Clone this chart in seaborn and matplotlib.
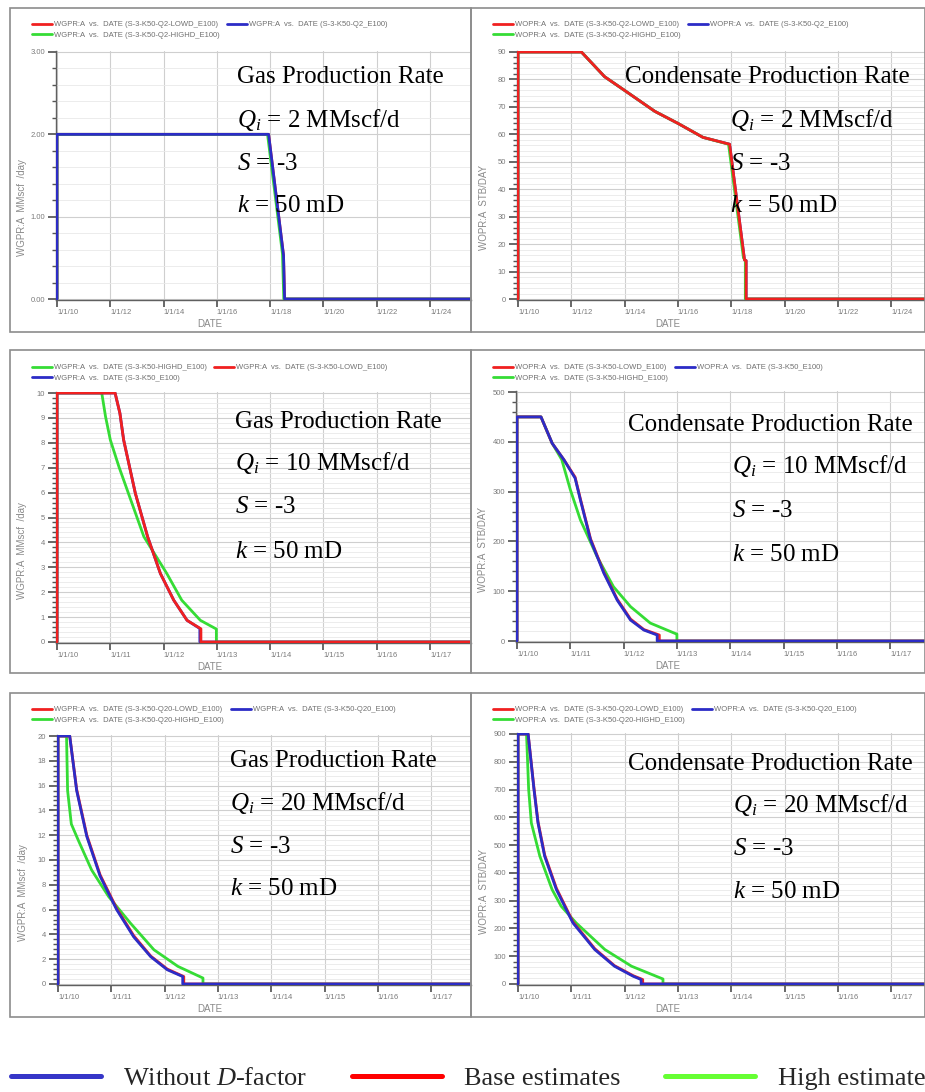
import pandas as pd
import seaborn as sns
import matplotlib.pyplot as plt
from matplotlib.lines import Line2D
from matplotlib.patches import Rectangle
from matplotlib.ticker import FixedLocator, AutoMinorLocator

# ---- data (dates as decimal years) ----
# Qi = 2 MMscf/d, gas rate (MMscf/day)
A_DATE_NOD = [2010, 2010, 2017.94, 2018.50, 2018.54, 2026]
A_RATE_NOD = [0, 2.0, 2.0, 0.53, 0, 0]
A_DATE_BASE = [2010, 2010, 2017.94, 2018.50, 2018.54, 2026]
A_RATE_BASE = [0, 2.0, 2.0, 0.53, 0, 0]
A_DATE_HIGH = [2010, 2010, 2017.90, 2018.46, 2018.51, 2026]
A_RATE_HIGH = [0, 2.0, 2.0, 0.55, 0, 0]

# Qi = 2 MMscf/d, condensate rate (STB/day)
B_DATE_BASE = [2010, 2010, 2012.38, 2013.25, 2014.0, 2015.13, 2016.0, 2016.94, 2017.94,
               2018.50, 2018.56, 2018.56, 2026]
B_RATE_BASE = [0, 90, 90, 81, 76, 68.4, 64, 58.9, 56.4, 14.2, 14, 0, 0]
B_DATE_NOD = B_DATE_BASE
B_RATE_NOD = B_RATE_BASE
B_DATE_HIGH = [2010, 2010, 2012.38, 2013.25, 2014.0, 2015.13, 2016.0, 2016.94, 2017.90,
               2018.46, 2018.53, 2018.53, 2026]
B_RATE_HIGH = [0, 90, 90, 81, 76, 68.4, 64, 58.9, 56.4, 15, 14, 0, 0]

# Qi = 10 MMscf/d, gas rate
C_DATE_NOD = [2010, 2010, 2011.09, 2011.18, 2011.25, 2011.47, 2011.70, 2011.94, 2012.19,
              2012.44, 2012.68, 2012.68, 2018]
C_RATE_NOD = [0, 10, 10, 9.19, 8.12, 5.97, 4.23, 2.75, 1.68, 0.87, 0.54, 0, 0]
C_DATE_BASE = [2010, 2010, 2011.09, 2011.18, 2011.25, 2011.47, 2011.70, 2011.94, 2012.19,
               2012.44, 2012.70, 2012.70, 2018]
C_RATE_BASE = [0, 10, 10, 9.19, 8.12, 5.97, 4.23, 2.75, 1.68, 0.87, 0.53, 0, 0]
C_DATE_HIGH = [2010, 2010, 2010.84, 2010.91, 2011.0, 2011.16, 2011.34, 2011.63, 2012.06,
               2012.34, 2012.69, 2012.99, 2012.99, 2018]
C_RATE_HIGH = [0, 10, 10, 9.06, 8.12, 7.05, 5.97, 4.23, 2.75, 1.68, 0.87, 0.52, 0, 0]

# Qi = 10 MMscf/d, condensate rate
D_DATE_NOD = [2010, 2010, 2010.45, 2010.66, 2010.88, 2011.09, 2011.19, 2011.38, 2011.63,
              2011.88, 2012.13, 2012.38, 2012.63, 2012.63, 2018]
D_RATE_NOD = [0, 450, 450, 397, 364, 327, 283, 203, 136, 82, 42, 22, 12, 0, 0]
D_DATE_BASE = [2010, 2010, 2010.45, 2010.66, 2010.88, 2011.09, 2011.19, 2011.38, 2011.63,
               2011.88, 2012.13, 2012.38, 2012.67, 2012.67, 2018]
D_RATE_BASE = [0, 450, 450, 397, 364, 329, 285, 205, 138, 84, 44, 23, 12, 0, 0]
D_DATE_HIGH = [2010, 2010, 2010.45, 2010.66, 2010.84, 2011.0, 2011.19, 2011.5, 2011.81,
               2012.13, 2012.5, 2012.97, 2013.0, 2013.0, 2018]
D_RATE_HIGH = [0, 450, 450, 397, 364, 304, 243, 170, 109, 69, 36, 15, 14, 0, 0]

# Qi = 20 MMscf/d, gas rate
E_DATE_NOD = [2010, 2010, 2010.22, 2010.35, 2010.54, 2010.79, 2011.10, 2011.42, 2011.74,
              2012.05, 2012.34, 2012.34, 2018]
E_RATE_NOD = [0, 20, 20, 15.6, 11.9, 8.7, 6.0, 3.8, 2.2, 1.15, 0.6, 0, 0]
E_DATE_BASE = [2010, 2010, 2010.22, 2010.35, 2010.54, 2010.79, 2011.10, 2011.42, 2011.74,
               2012.05, 2012.36, 2012.36, 2018]
E_RATE_BASE = [0, 20, 20, 15.7, 12.0, 8.8, 6.1, 3.9, 2.25, 1.2, 0.6, 0, 0]
E_DATE_HIGH = [2010, 2010, 2010.16, 2010.18, 2010.25, 2010.38, 2010.63, 2010.95, 2011.36,
               2011.80, 2012.25, 2012.72, 2012.72, 2018]
E_RATE_HIGH = [0, 20, 20, 15.6, 12.9, 11.6, 9.2, 7.05, 4.9, 2.76, 1.42, 0.48, 0, 0]

# Qi = 20 MMscf/d, condensate rate
F_DATE_NOD = [2010, 2010, 2010.19, 2010.30, 2010.375, 2010.50, 2010.72, 2011.03, 2011.44,
              2011.81, 2012.16, 2012.31, 2012.31, 2018]
F_RATE_NOD = [0, 900, 900, 700, 580, 460, 340, 220, 124, 64, 28, 16, 0, 0]
F_DATE_BASE = [2010, 2010, 2010.19, 2010.30, 2010.375, 2010.50, 2010.72, 2011.03, 2011.44,
               2011.81, 2012.16, 2012.34, 2012.34, 2018]
F_RATE_BASE = [0, 900, 900, 705, 585, 465, 345, 224, 127, 66, 30, 16, 0, 0]
F_DATE_HIGH = [2010, 2010, 2010.16, 2010.20, 2010.25, 2010.41, 2010.64, 2010.81, 2011.09,
               2011.63, 2012.13, 2012.72, 2012.72, 2018]
F_RATE_HIGH = [0, 900, 900, 700, 580, 460, 340, 280, 220, 124, 64, 18, 0, 0]

YEARS_WIDE = [2010, 2012, 2014, 2016, 2018, 2020, 2022, 2024]
LABELS_WIDE = ["1/1/10", "1/1/12", "1/1/14", "1/1/16", "1/1/18", "1/1/20", "1/1/22", "1/1/24"]
YEARS_NARROW = [2010, 2011, 2012, 2013, 2014, 2015, 2016, 2017]
LABELS_NARROW = ["1/1/10", "1/1/11", "1/1/12", "1/1/13", "1/1/14", "1/1/15", "1/1/16", "1/1/17"]

LEGEND_NAMES = ["Without $D$-factor", "Base estimates", "High estimate"]

W, H = 925, 1092
COLORS = {"nod": "#2c2cc6", "base": "#f02020", "high": "#35dc35"}
KEY_COLORS = ["#3636c8", "#ff0000", "#66ff33"]
SERIF = "Liberation Serif"

sns.set_theme(style="white")
plt.rcParams["font.family"] = ["Liberation Sans", "DejaVu Sans"]
plt.rcParams["mathtext.fontset"] = "custom"
plt.rcParams["mathtext.rm"] = SERIF
plt.rcParams["mathtext.it"] = SERIF + ":italic"

fig = plt.figure(figsize=(W / 100, H / 100), dpi=100)


def frame(x0, y0, x1, y1):
    fig.add_artist(Rectangle((x0 / W, 1 - y1 / H), (x1 - x0) / W, (y1 - y0) / H,
                             transform=fig.transFigure, fill=False,
                             edgecolor="#8c8c8c", lw=1.2, zorder=5))


def panel(x0, y0, ytop, right, years, labels, y_top, y_step, y_fmt, qty, ylabel,
          runs, series, draw, leg_order, leg_xy, ylab_dx):
    # x0/y0: pixel of (2010, 0); ytop: pixel of y_top; right: right edge of plot
    ppx = (years[1] - years[0])
    ppx = 53.3 / ppx if ppx == 1 else 26.65
    ppy = (y0 - ytop) / y_top
    m = 1.0
    ax = fig.add_axes([(x0 - m) / W, 1 - (y0 + m) / H, (right - x0 + m) / W, (y0 - ytop + 2 * m) / H])

    frames = []
    for key in draw:
        dates, rates = series[key]
        frames.append(pd.DataFrame({"date": dates, "rate": rates,
                                    "run": f"{qty}  vs.  DATE ({runs[key]})"}))
    df = pd.concat(frames, ignore_index=True)
    names = [f"{qty}  vs.  DATE ({runs[k]})" for k in draw]
    pal = {f"{qty}  vs.  DATE ({runs[k]})": COLORS[k] for k in draw}
    sns.lineplot(data=df, x="date", y="rate", hue="run", hue_order=names, palette=pal,
                 sort=False, estimator=None, linewidth=2, ax=ax)

    ax.set_xlim(2010 - m / ppx, 2010 + (right - x0) / ppx)
    ax.set_ylim(-m / ppy, y_top + m / ppy)

    ax.xaxis.set_major_locator(FixedLocator(years))
    ax.set_xticklabels(labels)
    for t in ax.get_xticklabels():
        t.set_ha("left")
    yt = [i * y_step for i in range(int(round(y_top / y_step)) + 1)]
    ax.yaxis.set_major_locator(FixedLocator(yt))
    ax.set_yticklabels([y_fmt.format(v) for v in yt])
    ax.yaxis.set_minor_locator(AutoMinorLocator(5))
    ax.tick_params(which="both", left=True, bottom=True, direction="out", color="#555555")
    ax.tick_params(axis="x", length=5, pad=1.5, labelsize=5.5, labelcolor="#7a7a7a")
    ax.tick_params(axis="y", which="major", length=6, pad=2, labelsize=5.5, labelcolor="#7a7a7a")
    ax.tick_params(axis="y", which="minor", length=3)

    ax.grid(which="major", color="#cfcfcf", lw=0.8)
    ax.grid(which="minor", axis="y", color="#e9e9e9", lw=0.6)
    for s in ["top", "right"]:
        ax.spines[s].set_visible(False)
    for s in ["left", "bottom"]:
        ax.spines[s].set_color("#606060")
        ax.spines[s].set_linewidth(1.0)
        ax.spines[s].set_zorder(1)

    w_px = right - x0
    h_px = y0 - ytop
    ax.set_xlabel("DATE", fontsize=7, color="#8a8a8a")
    ax.xaxis.set_label_coords(0.37, -19 / h_px)
    ax.set_ylabel(ylabel, fontsize=7, color="#8a8a8a")
    ax.yaxis.set_label_coords(-ylab_dx / w_px, 0.37)

    h, l = ax.get_legend_handles_labels()
    lookup = dict(zip(l, h))
    order = [f"{qty}  vs.  DATE ({runs[k]})" for k in leg_order]
    order = [order[0], order[2], order[1]]
    ax.legend([lookup[o] for o in order], order, ncol=2, loc="upper left",
              bbox_to_anchor=(leg_xy[0] / W, 1 - leg_xy[1] / H), bbox_transform=fig.transFigure,
              frameon=False, fontsize=5.5, labelcolor="#707070", handlelength=2.6,
              handletextpad=0.3, columnspacing=0.9, labelspacing=0.45,
              borderpad=0, borderaxespad=0)
    return ax


def notes(title, qi, pos):
    lines = [title, f"$Q_i$ = {qi} MMscf/d", "$S$ = -3", "$k$ = 50 mD"]
    for s, (x, y) in zip(lines, pos):
        fig.text(x / W, 1 - y / H, s, fontsize=18, family=SERIF, va="baseline", ha="left",
                 color="black", zorder=6)


GAS = "WGPR:A"
OIL = "WOPR:A"

# row 1 : Qi = 2
panel(57, 299, 52, 471, YEARS_WIDE, LABELS_WIDE, 3, 1, "{:.2f}", GAS, "WGPR:A  MMscf  /day",
      {"base": "S-3-K50-Q2-LOWD_E100", "nod": "S-3-K50-Q2_E100", "high": "S-3-K50-Q2-HIGHD_E100"},
      {"nod": (A_DATE_NOD, A_RATE_NOD), "base": (A_DATE_BASE, A_RATE_BASE),
       "high": (A_DATE_HIGH, A_RATE_HIGH)},
      ["base", "high", "nod"], ["base", "nod", "high"], (32, 21), 29)
panel(518, 299, 52, 925, YEARS_WIDE, LABELS_WIDE, 90, 10, "{:.0f}", OIL, "WOPR:A  STB/DAY",
      {"base": "S-3-K50-Q2-LOWD_E100", "nod": "S-3-K50-Q2_E100", "high": "S-3-K50-Q2-HIGHD_E100"},
      {"nod": (B_DATE_NOD, B_RATE_NOD), "base": (B_DATE_BASE, B_RATE_BASE),
       "high": (B_DATE_HIGH, B_RATE_HIGH)},
      ["nod", "high", "base"], ["base", "nod", "high"], (493, 21), 28)

# row 2 : Qi = 10
panel(57, 642, 393, 471, YEARS_NARROW, LABELS_NARROW, 10, 1, "{:.0f}", GAS, "WGPR:A  MMscf  /day",
      {"base": "S-3-K50-LOWD_E100", "nod": "S-3-K50_E100", "high": "S-3-K50-HIGHD_E100"},
      {"nod": (C_DATE_NOD, C_RATE_NOD), "base": (C_DATE_BASE, C_RATE_BASE),
       "high": (C_DATE_HIGH, C_RATE_HIGH)},
      ["high", "nod", "base"], ["high", "base", "nod"], (32, 364), 29)
panel(517, 641, 392, 925, YEARS_NARROW, LABELS_NARROW, 500, 100, "{:.0f}", OIL, "WOPR:A  STB/DAY",
      {"base": "S-3-K50-LOWD_E100", "nod": "S-3-K50_E100", "high": "S-3-K50-HIGHD_E100"},
      {"nod": (D_DATE_NOD, D_RATE_NOD), "base": (D_DATE_BASE, D_RATE_BASE),
       "high": (D_DATE_HIGH, D_RATE_HIGH)},
      ["high", "base", "nod"], ["base", "nod", "high"], (493, 364), 28)

# row 3 : Qi = 20
panel(58, 984, 736, 471, YEARS_NARROW, LABELS_NARROW, 20, 2, "{:.0f}", GAS, "WGPR:A  MMscf  /day",
      {"base": "S-3-K50-Q20-LOWD_E100", "nod": "S-3-K50-Q20_E100", "high": "S-3-K50-Q20-HIGHD_E100"},
      {"nod": (E_DATE_NOD, E_RATE_NOD), "base": (E_DATE_BASE, E_RATE_BASE),
       "high": (E_DATE_HIGH, E_RATE_HIGH)},
      ["high", "base", "nod"], ["base", "nod", "high"], (32, 706), 29)
panel(518, 984, 734, 925, YEARS_NARROW, LABELS_NARROW, 900, 100, "{:.0f}", OIL, "WOPR:A  STB/DAY",
      {"base": "S-3-K50-Q20-LOWD_E100", "nod": "S-3-K50-Q20_E100", "high": "S-3-K50-Q20-HIGHD_E100"},
      {"nod": (F_DATE_NOD, F_RATE_NOD), "base": (F_DATE_BASE, F_RATE_BASE),
       "high": (F_DATE_HIGH, F_RATE_HIGH)},
      ["high", "base", "nod"], ["base", "nod", "high"], (493, 706), 28)

for box in [(10, 8, 471, 332), (471, 8, 925, 332), (10, 350, 471, 673), (471, 350, 925, 673),
            (10, 693, 471, 1017), (471, 693, 925, 1017)]:
    frame(*box)

notes("Gas Production Rate", 2, [(237, 83), (237, 127), (237, 170), (237, 212)])
notes("Condensate Production Rate", 2, [(625, 83), (730, 127), (730, 170), (730, 212)])
notes("Gas Production Rate", 10, [(235, 428), (235, 470), (235, 513), (235, 558)])
notes("Condensate Production Rate", 10, [(628, 431), (732, 473), (732, 517), (732, 561)])
notes("Gas Production Rate", 20, [(230, 767), (230, 810), (230, 853), (230, 895)])
notes("Condensate Production Rate", 20, [(628, 770), (733, 812), (733, 855), (733, 898)])

key = [Line2D([], [], color=c, lw=3.6) for c in KEY_COLORS]
fig.legend(key, LEGEND_NAMES, ncol=3, loc="center left", bbox_to_anchor=(11 / W, 1 - 1078 / H),
           frameon=False, prop={"family": SERIF, "size": 19}, handlelength=3.4,
           handletextpad=0.85, columnspacing=1.7, borderpad=0, borderaxespad=0)

fig.savefig("out.png", dpi=100, facecolor="white")
